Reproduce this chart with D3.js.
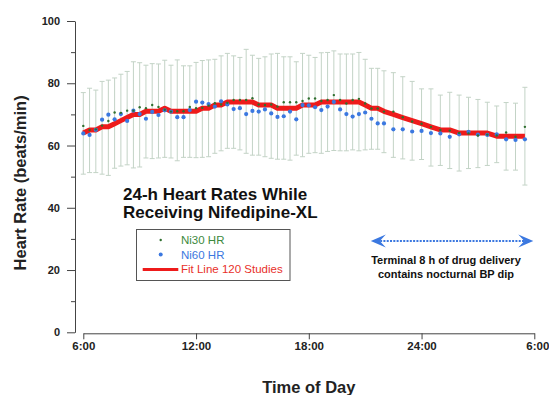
<!DOCTYPE html>
<html>
<head>
<meta charset="utf-8">
<script src="https://cdn.jsdelivr.net/npm/d3@7"></script>
<style>
  html, body { margin: 0; padding: 0; background: #fff; }
  svg { display: block; font-family: "Liberation Sans", Arial, sans-serif; }
</style>
</head>
<body>
<svg id="chart" width="549" height="395"></svg>
<script>
// ---- data ----
const times = ["6:00","6:20","6:40","7:00","7:20","7:40","8:00","8:20","8:40","9:00","9:20","9:40",
  "10:00","10:20","10:40","11:00","11:20","11:40","12:00","12:20","12:40","13:00","13:20","13:40",
  "14:00","14:20","14:40","15:00","15:20","15:40","16:00","16:20","16:40","17:00","17:20","17:40",
  "18:00","18:20","18:40","19:00","19:20","19:40","20:00","20:20","20:40","21:00","21:20","21:40",
  "22:00","22:30","23:00","23:30","24:00","24:30","25:00","25:30","26:00","26:30","27:00","27:30",
  "28:00","28:30","29:00","29:30"];

const ni30HR = [66.3,65.0,65.2,66.4,67.9,70.6,70.5,71.2,71.2,72.3,72.0,73.0,
  72.4,71.5,70.9,71.0,71.0,72.4,72.0,72.1,72.8,73.6,73.2,73.7,
  74.6,74.6,74.6,75.2,73.2,73.0,73.2,72.5,73.9,73.9,73.9,74.3,
  75.1,75.1,74.3,74.6,76.2,74.6,73.5,74.6,75.0,73.5,71.9,71.9,
  70.9,70.9,69.1,67.7,67.0,66.0,65.0,64.8,64.0,63.9,63.2,63.5,
  63.2,64.2,62.8,66.0];

const ni60HR = [63.9,63.4,65.0,68.3,69.9,68.4,70.1,67.9,71.2,70.1,68.6,70.8,
  69.8,71.3,70.9,69.1,69.1,71.4,74.1,73.8,73.3,72.5,74.2,73.2,
  71.7,72.0,70.1,71.1,70.9,71.6,70.3,69.2,69.4,70.9,68.4,73.0,
  72.9,72.3,71.4,72.5,74.0,71.6,70.1,69.3,70.1,70.6,68.6,67.1,
  67.1,65.2,65.2,64.5,64.7,64.0,63.9,62.8,63.6,64.4,63.5,63.4,
  63.6,62.0,61.8,62.0];

const fitLine = [64,65,65,66,66,67,68,69,70,70,71,71,
  71,72,71,71,71,71,71,72,72,73,73,74,
  74,74,74,74,73,73,73,72,72,72,72,73,
  73,73,74,74,74,74,74,74,74,73,72,72,
  71,70,69,68,67,66,65,65,64,64,64,64,
  63,63,63,63];

const errHigh = [77.0,78.4,77.8,80.6,81.0,81.7,82.9,83.8,86.9,86.6,85.8,86.3,
  86.2,87.4,85.8,87.5,85.6,85.6,86.7,87.3,87.5,87.7,88.8,89.6,
  88.8,88.3,90.9,89.0,88.0,88.5,89.4,89.6,88.5,88.5,86.9,89.6,
  89.0,88.3,89.8,89.9,90.4,89.4,89.4,89.4,89.9,87.7,84.8,84.8,
  84.0,83.4,82.1,80.6,78.2,78.2,76.2,77.1,76.2,75.5,74.8,73.9,
  72.7,73.8,73.6,78.7];

const errLow = [50.8,51.3,51.3,50.8,50.4,52.7,53.4,53.8,52.8,53.1,56.0,55.8,
  56.0,56.2,56.0,55.1,56.2,56.2,56.1,56.2,56.4,57.5,58.3,59.1,
  59.1,58.6,57.5,56.9,56.9,56.4,55.9,55.6,55.6,55.3,56.9,56.4,
  57.5,57.7,57.5,58.1,58.4,58.3,58.3,58.6,58.3,58.6,58.8,58.8,
  57.7,56.2,55.7,55.3,55.5,53.4,53.6,52.6,51.8,52.6,52.9,53.6,
  54.5,52.1,52.1,47.3];

const yTicks = [0,20,40,60,80,100];
const yMinorTicks = [10,30,50,70,90];
const xTicks = [6,12,18,24,30];
const xTickLabels = ["6:00","12:00","18:00","24:00","6:00"];
const legendLabels = ["Ni30 HR","Ni60 HR","Fit Line 120 Studies"];
const titleLines = ["24-h Heart Rates While","Receiving Nifedipine-XL"];
const noteLines = ["Terminal 8 h of drug delivery","contains nocturnal BP dip"];
const noteSpan = [21.3, 30]; // hours covered by the arrow
const colors = { ni30: "#2f6f2f", ni60: "#3b78e0", fit: "#ee1b1b", err: "#c3d3c6",
  ni30Text: "#3d8a3d", ni60Text: "#3b78e0", fitText: "#e8302a", axis: "#444" };

// ---- build ----
const hours = times.map(t => { const [h, m] = t.split(":").map(Number); return h + m / 60; });
const data = hours.map((h, i) => ({ h, a: ni30HR[i], b: ni60HR[i], f: fitLine[i], hi: errHigh[i], lo: errLow[i] }));

const svg = d3.select("#chart");
const x = d3.scaleLinear().domain([6, 30]).range([83.3, 534.3]);
const y = d3.scaleLinear().domain([0, 100]).range([332.3, 21]);

// y axis
const yAx = svg.append("g").attr("transform", "translate(75,0)")
  .call(d3.axisLeft(y).tickValues(yTicks).tickSize(8).tickSizeOuter(0).tickPadding(7));
yAx.selectAll("text").attr("font-size", 11).attr("font-weight", "bold").attr("fill", "#222")
  .attr("font-family", "Liberation Sans, Arial, sans-serif");
const yMin = svg.append("g").attr("transform", "translate(75,0)")
  .call(d3.axisLeft(y).tickValues(yMinorTicks).tickSize(4).tickSizeOuter(0).tickFormat(""));
yMin.select(".domain").remove();
[yAx, yMin].forEach(g => { g.selectAll("line,path").attr("stroke", colors.axis); });

// x axis
const xAx = svg.append("g").attr("transform", "translate(0,333.3)")
  .call(d3.axisBottom(x).tickValues(xTicks).tickSize(6).tickSizeOuter(0).tickPadding(3)
    .tickFormat((d, i) => xTickLabels[i]));
xAx.selectAll("line,path").attr("stroke", colors.axis);
xAx.selectAll("text").attr("font-size", 11.5).attr("font-weight", "bold").attr("fill", "#222")
  .attr("font-family", "Liberation Sans, Arial, sans-serif");
xAx.selectAll(".tick:last-of-type text").attr("dx", 3);

// axis titles
svg.append("text").attr("x", x(18)).attr("y", 393).attr("text-anchor", "middle")
  .attr("font-size", 16.5).attr("font-weight", "bold").attr("fill", "#222").text("Time of Day");
svg.append("text").attr("transform", `translate(26,${y(48)}) rotate(-90)`).attr("text-anchor", "middle")
  .attr("font-size", 16.5).attr("font-weight", "bold").attr("fill", "#222").text("Heart Rate (beats/min)");

// error bars
const eb = svg.append("g").attr("stroke", colors.err).attr("stroke-width", 1);
eb.selectAll("line.v").data(data).join("line").attr("class", "v")
  .attr("x1", d => x(d.h)).attr("x2", d => x(d.h)).attr("y1", d => y(d.hi)).attr("y2", d => y(d.lo));
eb.selectAll("line.t").data(data).join("line").attr("class", "t")
  .attr("x1", d => x(d.h) - 2.5).attr("x2", d => x(d.h) + 2.5).attr("y1", d => y(d.hi)).attr("y2", d => y(d.hi));
eb.selectAll("line.b").data(data).join("line").attr("class", "b")
  .attr("x1", d => x(d.h) - 2.5).attr("x2", d => x(d.h) + 2.5).attr("y1", d => y(d.lo)).attr("y2", d => y(d.lo));

// fit line
svg.append("path").datum(data).attr("fill", "none").attr("stroke", colors.fit).attr("stroke-width", 5)
  .attr("stroke-linejoin", "round")
  .attr("d", d3.line().x(d => x(d.h)).y(d => y(d.f)));

// points
svg.append("g").selectAll("circle").data(data).join("circle")
  .attr("cx", d => x(d.h)).attr("cy", d => y(d.b)).attr("r", 2.1).attr("fill", colors.ni60);
svg.append("g").selectAll("circle").data(data).join("circle")
  .attr("cx", d => x(d.h)).attr("cy", d => y(d.a)).attr("r", 1.2).attr("fill", colors.ni30);

// chart title
const tt = svg.append("text").attr("x", 123).attr("y", 200).attr("font-size", 17).attr("font-weight", "bold").attr("fill", "#111");
titleLines.forEach((l, i) => tt.append("tspan").attr("x", 123).attr("dy", i ? 18 : 0).text(l));

// legend
const lg = svg.append("g");
lg.append("rect").attr("x", 136.5).attr("y", 229.5).attr("width", 153.5).attr("height", 51)
  .attr("fill", "#fff").attr("stroke", "#555").attr("stroke-width", 1);
lg.append("circle").attr("cx", 160.7).attr("cy", 240).attr("r", 1.2).attr("fill", colors.ni30);
lg.append("circle").attr("cx", 160.7).attr("cy", 254.5).attr("r", 2).attr("fill", colors.ni60);
lg.append("line").attr("x1", 142.7).attr("x2", 178.3).attr("y1", 269.5).attr("y2", 269.5)
  .attr("stroke", colors.fit).attr("stroke-width", 3);
const lgColors = [colors.ni30Text, colors.ni60Text, colors.fitText];
legendLabels.forEach((l, i) => {
  lg.append("text").attr("x", 181).attr("y", 244 + i * 14.6).attr("font-size", 11.5)
    .attr("fill", lgColors[i]).text(l);
});

// annotation arrow
const ay = 241;
const ax0 = x(noteSpan[0]), ax1 = x(noteSpan[1]) - 1;
const an = svg.append("g");
an.append("line").attr("x1", ax0 + 6).attr("x2", ax1 - 6).attr("y1", ay).attr("y2", ay)
  .attr("stroke", "#3b78e0").attr("stroke-width", 2).attr("stroke-dasharray", "2,1.3");
an.append("path").attr("fill", "#3b78e0")
  .attr("d", `M${ax0},${ay} L${ax0 + 15},${ay - 6.5} L${ax0 + 9},${ay} L${ax0 + 15},${ay + 6.5} Z`);
an.append("path").attr("fill", "#3b78e0")
  .attr("d", `M${ax1},${ay} L${ax1 - 15},${ay - 6.5} L${ax1 - 9},${ay} L${ax1 - 15},${ay + 6.5} Z`);
noteLines.forEach((l, i) => {
  an.append("text").attr("x", 446).attr("y", 263.5 + i * 14).attr("text-anchor", "middle")
    .attr("font-size", 11).attr("font-weight", "bold").attr("fill", "#111").text(l);
});
</script>
</body>
</html>
